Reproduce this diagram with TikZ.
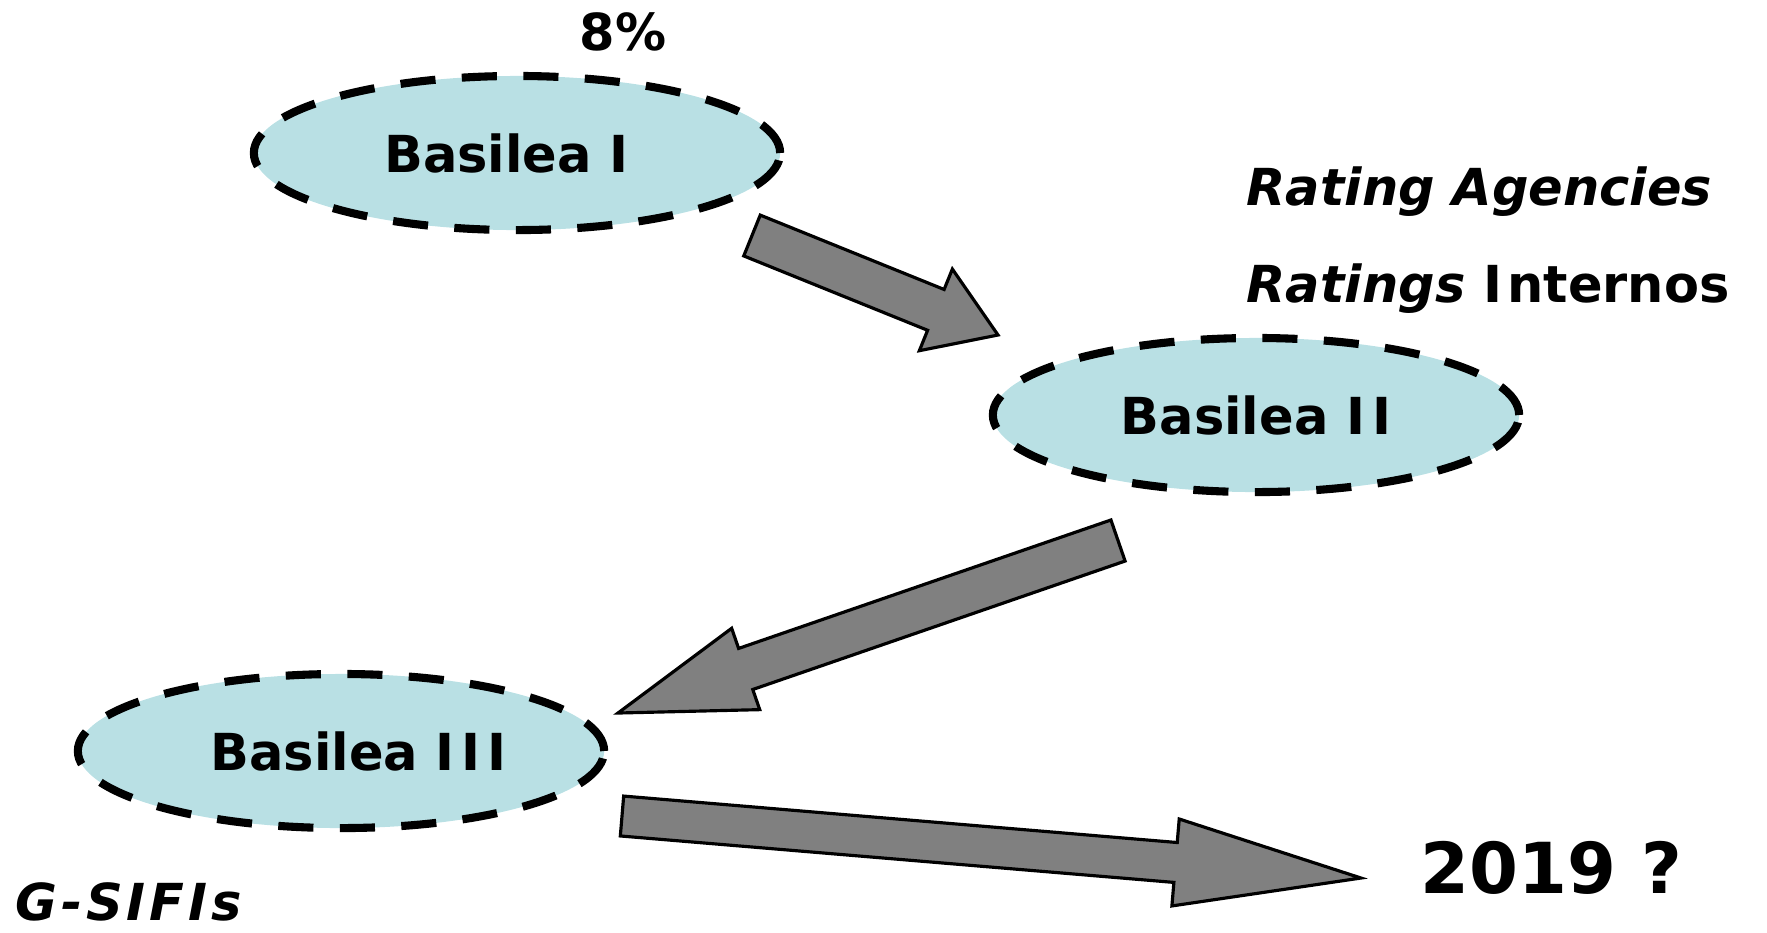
\documentclass[tikz,border=0pt]{standalone}
\usepackage{fontspec}
\setmainfont{DejaVu Sans}
\usetikzlibrary{shapes.geometric,calc}

% block arrow: tail, tip, half width of shaft, half width of head, head length
\newcommand{\fatarrow}[5]{%
  \coordinate (#1-hb) at ($(#2)!#5!(#1)$);
  \draw[blockarrow] ($(#1)!#3!90:(#2)$) -- ($(#1-hb)!#3!90:(#2)$) -- ($(#1-hb)!#4!90:(#2)$) -- (#2)
    -- ($(#1-hb)!#4!-90:(#2)$) -- ($(#1-hb)!#3!-90:(#2)$) -- ($(#1)!#3!-90:(#2)$) -- cycle;
}

\begin{document}
\begin{tikzpicture}[x=0.01cm,y=-0.01cm,
    basilea/.style={shape=ellipse,draw,fill=bas_fill,line width=2.3pt,dash pattern=on 10pt off 7.5pt,
      minimum width=5.26cm,minimum height=1.54cm,inner sep=0pt,font=\fontsize{14.5}{17}\selectfont\bfseries},
    blockarrow/.style={draw,fill=arr_fill,line width=0.9pt,line join=miter},
    txt/.style={inner sep=0pt,font=\fontsize{14.5}{17}\selectfont\bfseries}]
    \definecolor{bas_fill}{RGB}{185,224,228}
    \definecolor{arr_fill}{RGB}{128,128,128}
    \useasboundingbox (0,0) rectangle (1767,932);

    \node[basilea] (bas1) at (517,153) {Basilea I\hspace*{6pt}};
    \node[basilea] (bas2) at (1256,415) {Basilea I\kern2pt I};
    \node[basilea] (bas3) at (341,751) {\hspace*{10pt}Basilea I\kern2pt I\kern2pt I};

    \node[txt,anchor=base] (pct) at (623,50) {8\%};
    \node[txt,anchor=base west] (agencies) at (1246,205) {\itshape Rating Agencies};
    \node[txt,anchor=base west] (internos) at (1246,302) {\textit{Ratings} I\kern1.5pt nternos};
    \node[txt,anchor=base west,font=\fontsize{20}{24}\selectfont\bfseries] (year) at (1420,893) {2019 ?};
    \node[txt,anchor=base west] (gsifis) at (15,920) {\itshape\addfontfeature{LetterSpace=7.5}G-SIFIs};

    % arrows between the stages
    \coordinate (a1s) at (752,235.5);
    \coordinate (a1e) at (998,335);
    \coordinate (a2s) at (1118,540.5);
    \coordinate (a2e) at (618,713);
    \coordinate (a3s) at (622,816);
    \coordinate (a3e) at (1361,878);
    \fatarrow{a1s}{a1e}{0.22cm}{0.44cm}{0.67cm}
    \fatarrow{a2s}{a2e}{0.217cm}{0.43cm}{1.35cm}
    \fatarrow{a3s}{a3e}{0.20cm}{0.436cm}{1.86cm}
\end{tikzpicture}
\end{document}
